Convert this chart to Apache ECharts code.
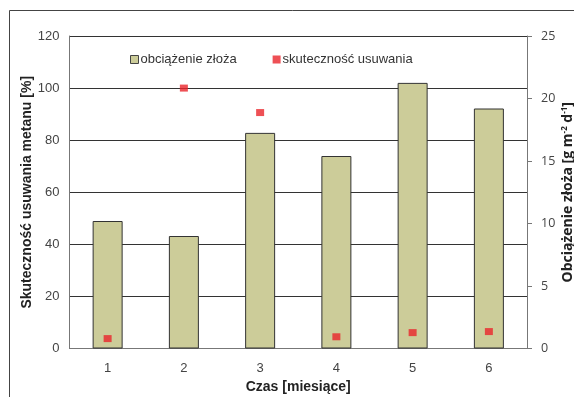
<!DOCTYPE html>
<html>
<head>
<meta charset="utf-8">
<script src="https://cdn.jsdelivr.net/npm/echarts@6/dist/echarts.min.js"></script>
<style>
html,body{margin:0;padding:0;background:#fff;}
#chart{width:574px;height:397px;}
</style>
</head>
<body>
<div id="chart"></div>
<script>
// Months on the x axis
const months = ['1', '2', '3', '4', '5', '6'];
// Bed load [g m-2 d-1] (bars, right axis)
const bedLoad = [10.2, 9.0, 17.25, 15.4, 21.25, 19.2];
// Methane removal efficiency [%] (markers, left axis)
const removalEff = [3.8, 100, 90.6, 4.5, 6.1, 6.5];

const leftTicks = { min: 0, max: 120, interval: 20 };
const rightTicks = { min: 0, max: 25, interval: 5 };

const chart = echarts.init(document.getElementById('chart'), null, { renderer: 'canvas' });

const sans = 'Liberation Sans, Arial, sans-serif';
const calib = 'Open Sans, Lato, sans-serif';

chart.setOption({
  animation: false,
  backgroundColor: '#fff',
  graphic: [{
    type: 'rect',
    shape: { x: 9.5, y: 10.5, width: 700, height: 500 },
    style: { fill: 'none', stroke: '#444', lineWidth: 1 },
    silent: true, z: -1
  }],
  grid: { left: 69.5, right: 47, top: 36, bottom: 48.5, containLabel: false, outerBoundsMode: 'none' },
  legend: {
    left: 125, top: 48,
    itemWidth: 8, itemHeight: 8, itemGap: 36,
    textStyle: { fontFamily: sans, fontSize: 13, color: '#333', padding: [0, 0, 0, -3] },
    data: [
      { name: 'obciążenie złoża', icon: 'rect', itemStyle: { color: '#cccc99', borderColor: '#444', borderWidth: 1 } },
      { name: 'skuteczność usuwania', icon: 'rect', itemStyle: { color: '#ea242b' } }
    ]
  },
  xAxis: {
    type: 'category',
    data: months,
    name: 'Czas [miesiące]',
    nameLocation: 'middle',
    nameGap: 32,
    nameMoveOverlap: false,
    nameTextStyle: { fontFamily: sans, fontSize: 14, fontWeight: 'bold', color: '#222' },
    axisLine: { lineStyle: { color: '#777', width: 1 } },
    axisTick: { show: false },
    axisLabel: { fontFamily: sans, fontSize: 13, color: '#444', margin: 13 },
    splitLine: { show: false }
  },
  yAxis: [{
    type: 'value',
    min: leftTicks.min, max: leftTicks.max, interval: leftTicks.interval,
    name: 'Skuteczność usuwania metanu [%]',
    nameLocation: 'middle',
    nameGap: 35,
    nameMoveOverlap: false,
    nameTextStyle: { fontFamily: sans, fontSize: 14, fontWeight: 'bold', color: '#222' },
    axisLine: { show: true, lineStyle: { color: '#777', width: 1 } },
    axisTick: { show: false },
    axisLabel: { fontFamily: sans, fontSize: 13, color: '#444', margin: 10 },
    splitLine: { show: true, lineStyle: { color: '#333', width: 1 } }
  }, {
    type: 'value',
    position: 'right',
    min: rightTicks.min, max: rightTicks.max, interval: rightTicks.interval,
    name: 'Obciążenie złoża [g m{sup|-2} d{sup|-1}]',
    nameLocation: 'middle',
    nameGap: 34,
    nameMoveOverlap: false,
    nameRotate: 90,
    nameTextStyle: {
      fontFamily: calib, fontSize: 14, fontWeight: 'bold', color: '#222',
      rich: { sup: { fontFamily: calib, fontSize: 8, fontWeight: 'bold', color: '#222', verticalAlign: 'top', lineHeight: 10 } }
    },
    axisLine: { show: true, lineStyle: { color: '#777', width: 1 } },
    axisTick: { show: true, inside: false, length: 5, lineStyle: { color: '#777' } },
    axisLabel: { fontFamily: calib, fontSize: 12.5, color: '#444', margin: 14 },
    splitLine: { show: false }
  }],
  series: [{
    name: 'obciążenie złoża',
    type: 'bar',
    yAxisIndex: 1,
    data: bedLoad,
    barWidth: 30,
    itemStyle: { color: '#cccc99', borderColor: '#333', borderWidth: 1 },
    z: 3
  }, {
    name: 'skuteczność usuwania',
    type: 'scatter',
    yAxisIndex: 0,
    data: removalEff,
    symbol: 'rect',
    symbolSize: [8, 7],
    itemStyle: { color: '#ea242b' },
    z: 4
  }]
});
</script>
</body>
</html>
